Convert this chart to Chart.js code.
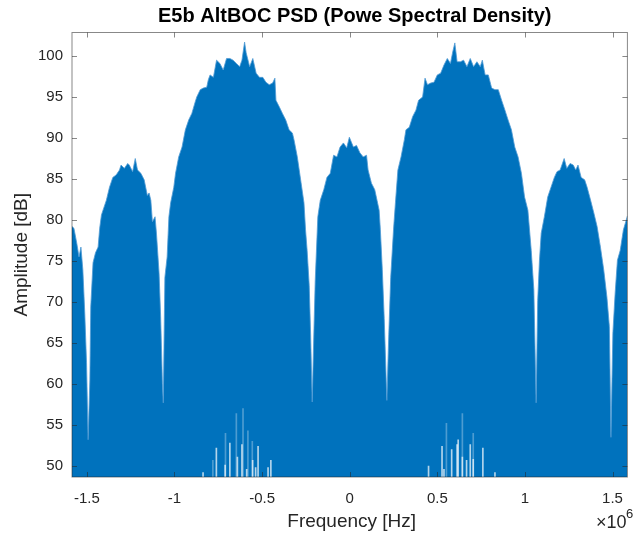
<!DOCTYPE html>
<html>
<head>
<meta charset="utf-8">
<title>E5b AltBOC PSD</title>
<script src="https://cdn.jsdelivr.net/npm/chart.js@4.4.1/dist/chart.umd.min.js"></script>
<style>
  html, body { margin: 0; padding: 0; background: #ffffff; }
  #wrap { width: 636px; height: 535px; }
</style>
</head>
<body>
<div id="wrap"><canvas id="psd" width="636" height="535"></canvas></div>
<script>
// Upper envelope of the E5b AltBOC power spectral density
const freqMHz = [
  -1.585, -1.574, -1.558, -1.545, -1.534, -1.523, -1.512, -1.502, -1.493, -1.483,
  -1.478, -1.465, -1.451, -1.436, -1.427, -1.417, -1.408, -1.389, -1.371, -1.352,
  -1.333, -1.314, -1.305, -1.286, -1.267, -1.258, -1.239, -1.224, -1.211, -1.192,
  -1.173, -1.155, -1.145, -1.135, -1.126, -1.111, -1.103, -1.088, -1.079, -1.069,
  -1.064, -1.055, -1.042, -1.032, -1.022, -1.004, -0.994, -0.976, -0.957, -0.938,
  -0.919, -0.901, -0.882, -0.873, -0.853, -0.835, -0.816, -0.807, -0.797, -0.778,
  -0.760, -0.741, -0.722, -0.703, -0.684, -0.666, -0.647, -0.628, -0.615, -0.600,
  -0.591, -0.571, -0.553, -0.534, -0.515, -0.496, -0.478, -0.459, -0.440, -0.427,
  -0.421, -0.402, -0.384, -0.365, -0.346, -0.327, -0.318, -0.299, -0.280, -0.261,
  -0.252, -0.243, -0.231, -0.223, -0.214, -0.206, -0.197, -0.182, -0.168, -0.148,
  -0.130, -0.111, -0.092, -0.073, -0.055, -0.036, -0.017, -0.002, 0.021, 0.039,
  0.058, 0.077, 0.096, 0.105, 0.124, 0.143, 0.156, 0.168, 0.175, 0.186,
  0.197, 0.212, 0.223, 0.234, 0.250, 0.261, 0.275, 0.293, 0.312, 0.321,
  0.340, 0.359, 0.378, 0.393, 0.416, 0.430, 0.444, 0.462, 0.481, 0.500,
  0.519, 0.538, 0.557, 0.575, 0.588, 0.600, 0.613, 0.632, 0.650, 0.669,
  0.688, 0.707, 0.726, 0.745, 0.757, 0.773, 0.791, 0.810, 0.829, 0.848,
  0.867, 0.886, 0.904, 0.923, 0.942, 0.961, 0.980, 0.998, 1.017, 1.036,
  1.051, 1.064, 1.073, 1.083, 1.093, 1.111, 1.130, 1.149, 1.168, 1.183,
  1.201, 1.224, 1.239, 1.258, 1.276, 1.290, 1.303, 1.321, 1.341, 1.355,
  1.375, 1.393, 1.412, 1.431, 1.450, 1.468, 1.482, 1.491, 1.502, 1.515,
  1.528, 1.544, 1.562, 1.585
];
const ampDb = [
  79.2, 79.0, 77.2, 75.5, 76.7, 73.9, 68.6, 62.6, 53.2, 60.5,
  69.4, 74.8, 76.0, 76.7, 79.0, 80.6, 81.2, 82.4, 84.0, 85.2,
  85.5, 86.1, 86.7, 86.3, 86.9, 86.7, 85.9, 87.5, 86.1, 85.7,
  84.9, 83.0, 83.3, 82.4, 79.8, 80.4, 78.4, 73.5, 68.2, 60.1,
  57.7, 73.0, 75.5, 80.4, 82.1, 84.0, 85.7, 87.7, 88.9, 91.0,
  92.2, 93.0, 94.4, 95.0, 95.9, 96.1, 96.2, 97.1, 97.7, 97.4,
  99.5, 99.1, 98.3, 99.7, 99.7, 99.5, 99.1, 98.7, 99.5, 101.7,
  100.4, 98.7, 99.7, 97.9, 97.4, 97.4, 96.8, 96.5, 96.7, 97.3,
  94.6, 93.8, 93.0, 92.2, 91.0, 90.6, 89.8, 87.7, 84.9, 82.1,
  78.8, 76.3, 72.0, 66.0, 57.8, 65.0, 72.5, 80.4, 82.4, 83.7,
  85.2, 85.7, 87.9, 87.7, 88.9, 89.4, 88.8, 90.1, 88.9, 89.1,
  88.2, 87.7, 87.9, 86.1, 84.5, 83.7, 82.4, 81.2, 78.8, 74.0,
  68.0, 58.0, 66.0, 73.0, 78.8, 82.1, 86.1, 87.7, 89.8, 91.0,
  91.3, 92.6, 93.4, 94.6, 95.0, 97.3, 96.5, 96.7, 96.8, 97.7,
  97.9, 98.9, 99.7, 99.1, 100.5, 101.6, 99.3, 99.3, 99.5, 98.7,
  99.7, 98.7, 99.3, 98.7, 99.5, 97.7, 97.7, 96.1, 95.9, 95.9,
  94.6, 93.4, 92.2, 91.0, 88.9, 87.7, 85.7, 82.8, 81.2, 76.3,
  71.5, 57.7, 70.2, 75.1, 78.4, 80.4, 82.8, 84.0, 85.2, 85.9,
  86.1, 87.5, 86.3, 86.9, 86.7, 86.1, 86.7, 85.2, 84.9, 84.0,
  82.4, 80.9, 79.2, 76.7, 73.9, 70.6, 67.0, 53.5, 66.2, 71.1,
  75.1, 76.3, 78.8, 80.5
];

// Frequencies where the trace minima stay above the floor (clear gaps)
const gapFreqMHz = [
  -0.837, -0.761, -0.711, -0.684, -0.641, -0.615, -0.588, -0.554, -0.537, -0.523,
  -0.466, -0.450,
  0.450, 0.527, 0.538, 0.582, 0.613, 0.619, 0.643, 0.667, 0.688, 0.705,
  0.760, 0.829
];
const gapTopDb = [
  49.2, 52.2, 50.1, 52.8, 51.1, 52.6, 49.6, 50.7, 49.8, 52.4,
  49.8, 50.7,
  50.0, 52.4, 49.6, 52.0, 52.6, 53.2, 51.1, 50.7, 52.6, 50.8,
  52.2, 49.2
];
// Shallower, partly covered gaps
const faintGapFreqMHz = [-0.781, -0.709, -0.647, -0.609, -0.581, -0.556, 0.552, 0.643, 0.705];
const faintGapTopDb = [50.7, 54.0, 56.4, 57.0, 54.3, 53.0, 55.2, 56.4, 54.0];

// Axis ticks
const xTickMHz = [-1.5, -1, -0.5, 0, 0.5, 1, 1.5];
const xTickLabels = ['-1.5', '-1', '-0.5', '0', '0.5', '1', '1.5'];
const yTickDb = [50, 55, 60, 65, 70, 75, 80, 85, 90, 95, 100];

const X_MIN = -1.585e6, X_MAX = 1.585e6;
const Y_MIN = 48.66, Y_MAX = 102.87;
const TEXT = '#262626';
const FONT = '"Liberation Sans", Arial, Helvetica, sans-serif';

const toPoints = (fs, vs) => fs.map((f, i) => ({ x: f * 1e6, y: vs[i] }));

// MATLAB-style boxed axes, inward ticks, titles and exponent label
const matlabFrame = {
  id: 'matlabFrame',
  afterDraw(chart) {
    const { ctx, chartArea: a, scales: { x, y } } = chart;
    ctx.save();
    ctx.strokeStyle = 'rgba(38,38,38,0.55)';
    ctx.lineWidth = 1;
    ctx.strokeRect(a.left, a.top, a.right - a.left, a.bottom - a.top);
    const L = 5;
    ctx.beginPath();
    x.ticks.forEach(t => {
      const px = Math.round(x.getPixelForValue(t.value)) + 0.5;
      ctx.moveTo(px, a.top); ctx.lineTo(px, a.top + L);
      ctx.moveTo(px, a.bottom); ctx.lineTo(px, a.bottom - L);
    });
    y.ticks.forEach(t => {
      const py = Math.round(y.getPixelForValue(t.value)) + 0.5;
      ctx.moveTo(a.left, py); ctx.lineTo(a.left + L, py);
      ctx.moveTo(a.right, py); ctx.lineTo(a.right - L, py);
    });
    ctx.stroke();

    const cx = (a.left + a.right) / 2;
    ctx.fillStyle = '#000000';
    ctx.textAlign = 'center';
    ctx.textBaseline = 'middle';
    ctx.font = 'bold 20px ' + FONT;
    ctx.fillText('E5b AltBOC PSD (Powe Spectral Density)', cx + 5, 16);

    ctx.fillStyle = TEXT;
    ctx.font = '19px ' + FONT;
    ctx.fillText('Frequency [Hz]', cx + 2, 522);

    ctx.save();
    ctx.translate(22, (a.top + a.bottom) / 2);
    ctx.rotate(-Math.PI / 2);
    ctx.fillText('Amplitude [dB]', 0, 0);
    ctx.restore();

    ctx.textAlign = 'left';
    ctx.textBaseline = 'alphabetic';
    ctx.font = '18px ' + FONT;
    ctx.fillText('\u00d710', 596, 528);
    ctx.font = '13px ' + FONT;
    ctx.fillText('6', 626, 518);
    ctx.restore();
  }
};

new Chart(document.getElementById('psd'), {
  type: 'line',
  data: {
    datasets: [
      {
        type: 'line',
        label: 'PSD',
        data: toPoints(freqMHz, ampDb),
        borderColor: 'rgba(80,155,212,0.8)',
        borderWidth: 1,
        backgroundColor: '#0072BD',
        fill: 'start',
        pointRadius: 0,
        tension: 0,
        order: 2
      },
      {
        type: 'bar',
        label: 'gaps',
        data: toPoints(gapFreqMHz, gapTopDb),
        backgroundColor: 'rgba(255,255,255,0.7)',
        barThickness: 1,
        grouped: false,
        base: Y_MIN,
        clip: 0,
        order: 0
      },
      {
        type: 'bar',
        label: 'faint gaps',
        data: toPoints(faintGapFreqMHz, faintGapTopDb),
        backgroundColor: 'rgba(255,255,255,0.3)',
        barThickness: 1,
        grouped: false,
        base: Y_MIN,
        clip: 0,
        order: 1
      }
    ]
  },
  options: {
    responsive: false,
    animation: false,
    devicePixelRatio: 1,
    layout: { padding: { top: 32.5, right: 2, left: 0, bottom: 0 } },
    plugins: {
      legend: { display: false },
      title: { display: false },
      tooltip: { enabled: false }
    },
    scales: {
      x: {
        type: 'linear',
        min: X_MIN,
        max: X_MAX,
        offset: false,
        grid: { display: false, drawTicks: false },
        border: { display: false },
        afterBuildTicks: s => { s.ticks = xTickMHz.map(v => ({ value: v * 1e6 })); },
        afterFit: s => { s.height = 58; },
        ticks: {
          autoSkip: false,
          maxRotation: 0,
          padding: 13,
          color: TEXT,
          font: { family: FONT, size: 15 },
          callback: (v) => xTickLabels[xTickMHz.indexOf(Math.round(v / 1e5) / 10)]
        }
      },
      y: {
        type: 'linear',
        min: Y_MIN,
        max: Y_MAX,
        grid: { display: false, drawTicks: false },
        border: { display: false },
        afterBuildTicks: s => { s.ticks = yTickDb.map(v => ({ value: v })); },
        afterFit: s => { s.width = 72; },
        ticks: {
          autoSkip: false,
          padding: 9,
          color: TEXT,
          font: { family: FONT, size: 15 },
          callback: v => String(v)
        }
      }
    }
  },
  plugins: [matlabFrame]
});
</script>
</body>
</html>
